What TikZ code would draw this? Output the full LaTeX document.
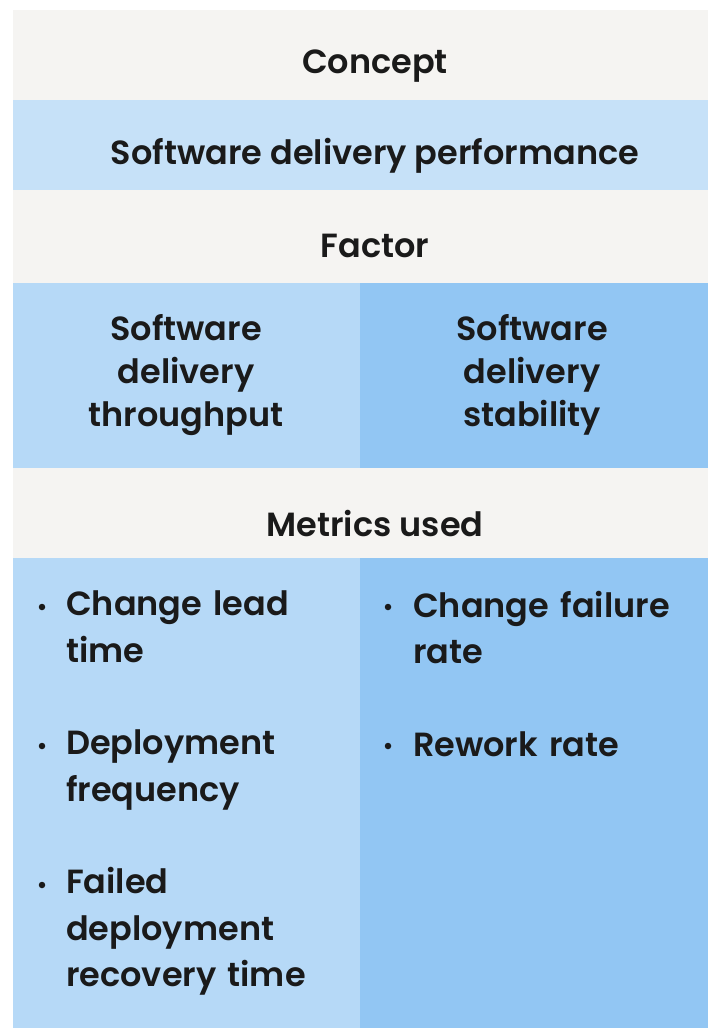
\documentclass[tikz,border=0pt]{standalone}
\usepackage{fontspec}
\setmainfont{Poppins}[BoldFont={* SemiBold}]
\definecolor{hdr}{HTML}{F5F4F2}
\definecolor{perf}{HTML}{C6E1F8}
\definecolor{lblue}{HTML}{B6D9F7}
\definecolor{dblue}{HTML}{92C6F3}
\definecolor{ink}{HTML}{1A1A1A}
\begin{document}
\begin{tikzpicture}[x=1pt,y=-1pt,
  txt/.style={text=ink,font=\fontsize{33.5}{43}\selectfont\bfseries},
  item/.style={txt,anchor=north west,align=left,inner sep=0pt,text width=#1},
  bul/.style={circle,fill=ink,minimum size=6.5pt,inner sep=0pt}]
\useasboundingbox (0,0) rectangle (710,1028);
\fill[white] (0,0) rectangle (710,1028);
\fill[hdr] (13,10) rectangle (708,100);
\fill[perf] (13,100) rectangle (708,190);
\fill[hdr] (13,190) rectangle (708,283);
\fill[lblue] (13,283) rectangle (360,468);
\fill[dblue] (360,283) rectangle (708,468);
\fill[hdr] (13,468) rectangle (708,558);
\fill[lblue] (13,558) rectangle (360,1028);
\fill[dblue] (360,558) rectangle (708,1028);
\node[txt] (concept) at (375,66) {Concept};
\node[txt] (perfn) at (375,156) {Software delivery performance};
\node[txt] (factor) at (375,246) {Factor};
\node[txt,align=center] (thr) at (186,375) {Software\\delivery\\throughput};
\node[txt,align=center] (stab) at (532,375) {Software\\delivery\\stability};
\node[txt] (metrics) at (375,524) {Metrics used};
\node[item=300pt,font=\fontsize{33.5}{46.3}\selectfont\bfseries] (m1) at (66,591) {Change lead\\time\\[46.3pt]Deployment\\frequency\\[46.3pt]Failed\\deployment\\recovery time};
\node[item=300pt,font=\fontsize{33.5}{46.3}\selectfont\bfseries] (m2) at (413,591) {Change failure\\rate\\[46.3pt]Rework rate};
\node[bul] (b1) at (42,607) {};
\node[bul] (b2) at (42,746) {};
\node[bul] (b3) at (42,885) {};
\node[bul] (b4) at (388,607) {};
\node[bul] (b5) at (388,746) {};
\end{tikzpicture}
\end{document}
